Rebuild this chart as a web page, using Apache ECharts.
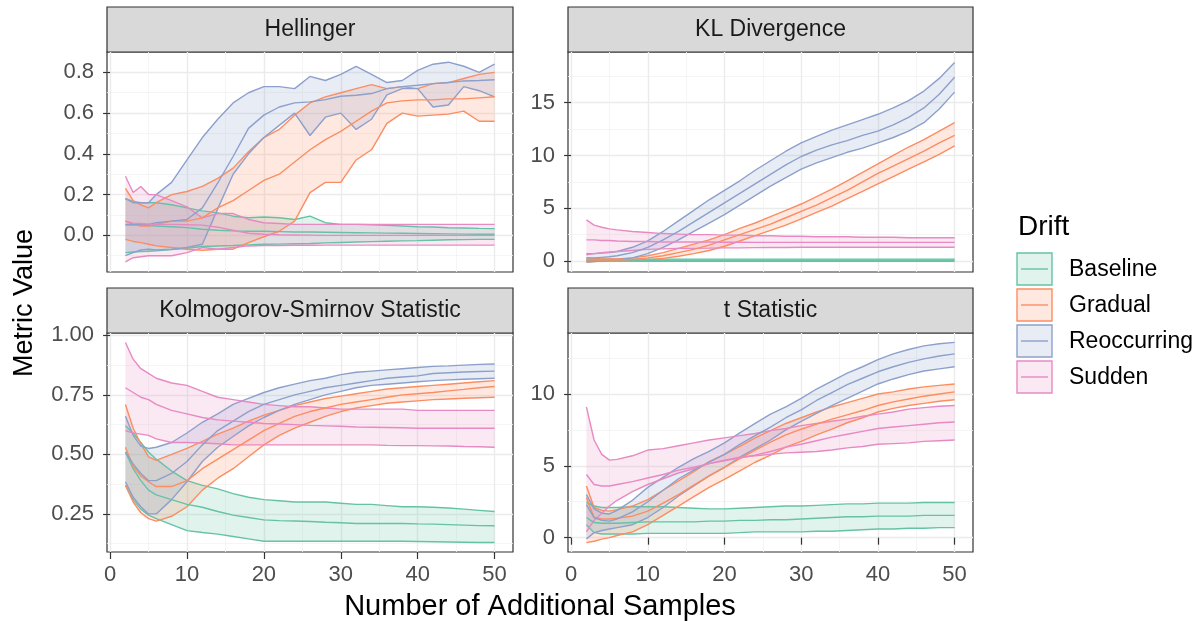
<!DOCTYPE html>
<html>
<head>
<meta charset="utf-8">
<title>Drift metrics</title>
<script src="https://cdn.jsdelivr.net/npm/echarts@6/dist/echarts.min.js"></script>
<style>
  html, body { margin: 0; padding: 0; background: #fff; }
  #chart { width: 1196px; height: 621px; }
</style>
</head>
<body>
<div id="chart"></div>
<script>
// x positions (number of additional samples)
const xs = [2, 3, 4, 5, 6, 8, 10, 12, 14, 16, 18, 20, 22, 24, 26, 28, 30, 32, 34, 36, 38, 40, 42, 44, 46, 48, 50];

const drifts = ['Baseline', 'Gradual', 'Reoccurring', 'Sudden'];
const driftColors = ['#66C2A5', '#FC8D62', '#8DA0CB', '#E78AC3'];

// tick labels
const xTicks = [0, 10, 20, 30, 40, 50];
const xMinor = [5, 15, 25, 35, 45];
const helTicks = [0, 0.2, 0.4, 0.6, 0.8];
const helMinor = [-0.1, 0.1, 0.3, 0.5, 0.7];
const klTicks = [0, 5, 10, 15];
const klMinor = [2.5, 7.5, 12.5, 17.5];
const ksTicks = [0.25, 0.5, 0.75, 1.0];
const ksMinor = [0.125, 0.375, 0.625, 0.875];
const tTicks = [0, 5, 10];
const tMinor = [2.5, 7.5, 12.5];

// Hellinger
const helBaseLo = [-0.085,-0.082,-0.08,-0.078,-0.076,-0.07,-0.064,-0.055,-0.052,-0.05,-0.047,-0.044,-0.043,-0.041,-0.04,-0.037,-0.035,-0.033,-0.031,-0.029,-0.027,-0.026,-0.024,-0.022,-0.021,-0.02,-0.02];
const helBaseMid = [0.05,0.05,0.05,0.048,0.046,0.042,0.038,0.03,0.025,0.022,0.02,0.02,0.018,0.016,0.016,0.015,0.014,0.013,0.012,0.011,0.01,0.009,0.008,0.007,0.006,0.005,0.005];
const helBaseHi = [0.18,0.167,0.16,0.16,0.16,0.15,0.135,0.12,0.11,0.094,0.086,0.09,0.086,0.078,0.094,0.062,0.054,0.054,0.052,0.049,0.046,0.042,0.041,0.037,0.036,0.034,0.033];
const helGradLo = [-0.02,-0.03,-0.036,-0.044,-0.052,-0.06,-0.068,-0.073,-0.068,-0.068,-0.036,-0.007,0.02,0.07,0.21,0.26,0.26,0.37,0.42,0.55,0.60,0.585,0.59,0.595,0.61,0.56,0.56];
const helGradMid = [0.07,0.054,0.046,0.046,0.054,0.07,0.07,0.086,0.135,0.17,0.22,0.27,0.30,0.36,0.42,0.47,0.51,0.56,0.61,0.65,0.66,0.665,0.665,0.67,0.67,0.675,0.68];
const helGradHi = [0.23,0.17,0.15,0.135,0.16,0.20,0.215,0.24,0.28,0.33,0.41,0.48,0.52,0.59,0.65,0.68,0.70,0.72,0.74,0.72,0.73,0.72,0.745,0.75,0.77,0.79,0.80];
const helReoLo = [-0.10,-0.085,-0.072,-0.068,-0.072,-0.068,-0.06,-0.044,0.13,0.30,0.40,0.48,0.54,0.60,0.49,0.58,0.60,0.52,0.57,0.69,0.72,0.72,0.63,0.64,0.73,0.71,0.68];
const helReoMid = [0.054,0.054,0.054,0.054,0.062,0.07,0.078,0.135,0.257,0.387,0.525,0.59,0.63,0.65,0.655,0.666,0.683,0.688,0.696,0.72,0.73,0.737,0.745,0.75,0.758,0.76,0.764];
const helReoHi = [0.18,0.16,0.16,0.16,0.20,0.26,0.37,0.48,0.57,0.65,0.70,0.73,0.73,0.72,0.78,0.76,0.79,0.83,0.79,0.75,0.76,0.81,0.84,0.85,0.83,0.80,0.84];
const helSudLo = [-0.13,-0.11,-0.105,-0.10,-0.10,-0.10,-0.085,-0.06,-0.068,-0.06,-0.052,-0.05,-0.05,-0.049,-0.049,-0.048,-0.048,-0.048,-0.048,-0.048,-0.048,-0.048,-0.048,-0.048,-0.048,-0.048,-0.048];
const helSudMid = [0.07,0.06,0.058,0.055,0.054,0.054,0.052,0.05,0.04,0.025,0.01,0.005,0.003,0.002,0.001,0,0,0,0,0,0,0,0,0,0,0,0];
const helSudHi = [0.29,0.21,0.24,0.20,0.20,0.17,0.14,0.086,0.107,0.107,0.078,0.062,0.058,0.054,0.054,0.054,0.054,0.054,0.054,0.054,0.054,0.054,0.054,0.054,0.054,0.054,0.054];

// KL Divergence
const klBaseLo = [-0.02,-0.02,-0.02,-0.02,-0.02,-0.02,-0.02,-0.02,-0.02,-0.02,-0.02,-0.02,-0.02,-0.02,-0.02,-0.02,-0.02,-0.02,-0.02,-0.02,-0.02,-0.02,-0.02,-0.02,-0.02,-0.02,-0.02];
const klBaseMid = [0.08,0.08,0.08,0.08,0.08,0.08,0.08,0.08,0.08,0.08,0.08,0.08,0.08,0.08,0.08,0.08,0.08,0.08,0.08,0.08,0.08,0.08,0.08,0.08,0.08,0.08,0.08];
const klBaseHi = [0.18,0.18,0.18,0.18,0.18,0.18,0.18,0.18,0.18,0.18,0.18,0.18,0.18,0.18,0.18,0.18,0.18,0.18,0.18,0.18,0.18,0.18,0.18,0.18,0.18,0.18,0.18];
const klGradLo = [-0.1,-0.05,0,0,0,0,0.1,0.25,0.45,0.7,1.0,1.4,1.9,2.4,2.9,3.4,4.0,4.6,5.2,5.9,6.6,7.3,8.0,8.7,9.4,10.1,10.9];
const klGradMid = [0.1,0.1,0.1,0.1,0.1,0.15,0.3,0.5,0.8,1.1,1.5,2.0,2.5,3.0,3.5,4.1,4.7,5.3,6.0,6.7,7.5,8.3,9.0,9.7,10.4,11.2,11.9];
const klGradHi = [0.3,0.25,0.2,0.2,0.2,0.3,0.5,0.8,1.2,1.6,2.0,2.5,3.1,3.6,4.2,4.8,5.4,6.1,6.8,7.6,8.4,9.2,10.0,10.8,11.5,12.3,13.1];
const klReoLo = [-0.1,-0.05,0,0.05,0.1,0.3,0.7,1.3,2.0,2.8,3.6,4.4,5.3,6.2,7.1,7.9,8.7,9.3,9.8,10.3,10.7,11.2,11.7,12.3,13.1,14.4,16.0];
const klReoMid = [0.3,0.3,0.35,0.4,0.5,0.8,1.3,2.0,2.8,3.7,4.6,5.5,6.4,7.3,8.2,9.1,9.9,10.5,11.0,11.4,11.9,12.3,12.9,13.6,14.5,15.8,17.4];
const klReoHi = [0.7,0.7,0.75,0.8,0.9,1.3,1.9,2.8,3.8,4.8,5.8,6.7,7.6,8.6,9.5,10.4,11.2,11.8,12.4,12.9,13.4,13.9,14.5,15.2,16.1,17.3,18.8];
const klSudLo = [0.6,0.7,0.8,0.85,0.9,1.0,1.1,1.15,1.2,1.2,1.22,1.25,1.25,1.27,1.28,1.28,1.3,1.3,1.3,1.3,1.3,1.3,1.3,1.3,1.3,1.3,1.3];
const klSudMid = [2.0,2.0,1.95,1.95,1.9,1.85,1.85,1.8,1.8,1.8,1.8,1.78,1.78,1.77,1.77,1.77,1.77,1.77,1.77,1.77,1.77,1.77,1.77,1.77,1.77,1.77,1.77];
const klSudHi = [3.9,3.4,3.2,3.05,2.95,2.8,2.7,2.6,2.55,2.5,2.5,2.45,2.45,2.4,2.4,2.35,2.35,2.3,2.3,2.3,2.25,2.25,2.25,2.2,2.2,2.2,2.2];

// Kolmogorov-Smirnov Statistic
const ksBaseLo = [0.37,0.31,0.27,0.245,0.23,0.205,0.18,0.172,0.165,0.155,0.145,0.135,0.135,0.135,0.135,0.135,0.135,0.135,0.135,0.135,0.135,0.134,0.133,0.132,0.131,0.13,0.13];
const ksBaseMid = [0.51,0.44,0.39,0.35,0.33,0.31,0.29,0.278,0.26,0.245,0.235,0.225,0.222,0.22,0.218,0.215,0.213,0.21,0.21,0.21,0.21,0.208,0.207,0.205,0.203,0.201,0.20];
const ksBaseHi = [0.62,0.59,0.55,0.51,0.48,0.43,0.39,0.37,0.355,0.335,0.32,0.31,0.305,0.30,0.30,0.30,0.295,0.29,0.29,0.285,0.28,0.28,0.278,0.275,0.27,0.265,0.26];
const ksGradLo = [0.37,0.30,0.255,0.23,0.22,0.24,0.28,0.35,0.40,0.44,0.49,0.54,0.58,0.61,0.635,0.66,0.68,0.695,0.705,0.715,0.72,0.725,0.73,0.733,0.736,0.738,0.74];
const ksGradMid = [0.53,0.45,0.41,0.385,0.365,0.365,0.39,0.44,0.48,0.52,0.56,0.60,0.63,0.66,0.68,0.695,0.71,0.72,0.73,0.74,0.75,0.755,0.76,0.767,0.773,0.78,0.785];
const ksGradHi = [0.71,0.61,0.545,0.49,0.475,0.50,0.525,0.555,0.585,0.61,0.64,0.665,0.685,0.705,0.72,0.735,0.745,0.755,0.765,0.775,0.78,0.785,0.79,0.795,0.80,0.805,0.81];
const ksReoLo = [0.385,0.32,0.28,0.25,0.25,0.31,0.385,0.47,0.53,0.575,0.62,0.655,0.685,0.71,0.73,0.75,0.765,0.78,0.79,0.795,0.80,0.805,0.81,0.813,0.816,0.818,0.82];
const ksReoMid = [0.51,0.46,0.42,0.39,0.39,0.42,0.47,0.54,0.60,0.64,0.68,0.71,0.73,0.75,0.765,0.78,0.79,0.80,0.81,0.82,0.825,0.83,0.84,0.843,0.846,0.848,0.85];
const ksReoHi = [0.66,0.58,0.535,0.525,0.53,0.55,0.59,0.635,0.67,0.71,0.735,0.76,0.78,0.795,0.81,0.82,0.835,0.845,0.85,0.855,0.86,0.865,0.87,0.872,0.875,0.878,0.88];
const ksSudLo = [0.60,0.59,0.585,0.58,0.565,0.55,0.55,0.548,0.545,0.54,0.54,0.54,0.54,0.54,0.54,0.54,0.54,0.54,0.54,0.538,0.537,0.537,0.536,0.535,0.533,0.532,0.53];
const ksSudMid = [0.78,0.76,0.74,0.73,0.71,0.685,0.67,0.655,0.645,0.64,0.635,0.63,0.628,0.625,0.622,0.62,0.618,0.615,0.614,0.613,0.612,0.61,0.61,0.61,0.61,0.61,0.61];
const ksSudHi = [0.97,0.90,0.86,0.84,0.82,0.80,0.79,0.765,0.74,0.73,0.72,0.71,0.705,0.70,0.70,0.695,0.69,0.69,0.69,0.69,0.69,0.685,0.685,0.685,0.685,0.685,0.685];

// t Statistic
const tBaseLo = [0.9,0.35,0.25,0.25,0.25,0.25,0.3,0.3,0.3,0.3,0.3,0.3,0.35,0.4,0.4,0.4,0.4,0.45,0.45,0.5,0.55,0.6,0.6,0.65,0.65,0.7,0.7];
const tBaseMid = [1.4,1.05,1.0,1.0,1.0,1.05,1.1,1.1,1.1,1.1,1.15,1.15,1.2,1.2,1.25,1.25,1.3,1.35,1.4,1.45,1.45,1.5,1.5,1.5,1.55,1.55,1.55];
const tBaseHi = [2.45,2.2,2.1,2.1,2.1,2.15,2.15,2.15,2.1,2.05,2.0,2.0,2.05,2.1,2.15,2.2,2.2,2.25,2.3,2.35,2.35,2.4,2.4,2.4,2.45,2.45,2.45];
const tGradLo = [-0.35,-0.25,-0.1,0,0.15,0.4,0.9,1.55,2.2,2.85,3.5,4.05,4.65,5.25,5.75,6.3,6.7,7.15,7.55,8.0,8.35,8.75,9.0,9.2,9.35,9.5,9.6];
const tGradMid = [2.8,1.4,1.3,1.3,1.35,1.5,1.85,2.4,3.0,3.65,4.3,4.9,5.5,6.1,6.65,7.15,7.55,7.9,8.25,8.55,8.85,9.2,9.45,9.65,9.85,10.0,10.15];
const tGradHi = [3.6,2.1,1.9,1.85,1.95,2.2,2.65,3.3,3.95,4.6,5.3,5.8,6.35,6.95,7.45,7.95,8.35,8.75,9.1,9.4,9.7,10.0,10.15,10.35,10.5,10.6,10.7];
const tReoLo = [-0.1,0.35,0.5,0.6,0.7,0.9,1.4,2.1,2.9,3.6,4.3,4.9,5.6,6.2,6.8,7.5,8.1,8.65,9.2,9.7,10.2,10.7,11.05,11.35,11.6,11.75,11.9];
const tReoMid = [2.3,1.4,1.2,1.15,1.3,1.8,2.5,3.3,4.1,4.7,5.25,5.8,6.5,7.1,7.7,8.35,8.9,9.55,10.1,10.65,11.1,11.55,11.9,12.2,12.45,12.65,12.8];
const tReoHi = [3.0,2.0,1.7,1.65,1.9,2.6,3.5,4.2,4.9,5.5,6.0,6.6,7.3,7.95,8.6,9.1,9.7,10.35,10.9,11.45,11.9,12.4,12.8,13.1,13.35,13.5,13.6];
const tSudLo = [0.4,1.2,1.7,2.2,2.6,3.2,3.7,4.1,4.5,4.8,5.15,5.4,5.6,5.7,5.8,5.9,5.95,6.0,6.1,6.25,6.35,6.5,6.55,6.6,6.7,6.75,6.8];
const tSudMid = [4.4,3.7,3.6,3.6,3.7,3.9,4.15,4.4,4.7,4.9,5.15,5.35,5.55,5.75,6.0,6.3,6.5,6.75,7.0,7.2,7.4,7.6,7.7,7.8,7.9,8.0,8.05];
const tSudHi = [9.1,6.8,5.8,5.4,5.45,5.7,6.1,6.2,6.4,6.6,6.8,6.95,7.1,7.25,7.45,7.6,7.8,7.95,8.1,8.25,8.45,8.6,8.75,8.95,9.05,9.15,9.2];

const FONT = '"Liberation Sans", Arial, sans-serif';

const panels = [
  { title: 'Hellinger', ymin: -0.18, ymax: 0.9, ticks: helTicks, minor: helMinor, digits: 1, bottom: false,
    rect: { left: 107, top: 52, width: 406, height: 220 },
    bands: [[helBaseLo, helBaseMid, helBaseHi], [helGradLo, helGradMid, helGradHi], [helReoLo, helReoMid, helReoHi], [helSudLo, helSudMid, helSudHi]] },
  { title: 'KL Divergence', ymin: -1.04, ymax: 19.8, ticks: klTicks, minor: klMinor, digits: 0, bottom: false,
    rect: { left: 568, top: 52, width: 405, height: 220 },
    bands: [[klBaseLo, klBaseMid, klBaseHi], [klGradLo, klGradMid, klGradHi], [klReoLo, klReoMid, klReoHi], [klSudLo, klSudMid, klSudHi]] },
  { title: 'Kolmogorov-Smirnov Statistic', ymin: 0.09, ymax: 1.01, ticks: ksTicks, minor: ksMinor, digits: 2, bottom: true,
    rect: { left: 107, top: 333, width: 406, height: 219 },
    bands: [[ksBaseLo, ksBaseMid, ksBaseHi], [ksGradLo, ksGradMid, ksGradHi], [ksReoLo, ksReoMid, ksReoHi], [ksSudLo, ksSudMid, ksSudHi]] },
  { title: 't Statistic', ymin: -1.0, ymax: 14.25, ticks: tTicks, minor: tMinor, digits: 0, bottom: true,
    rect: { left: 568, top: 333, width: 405, height: 219 },
    bands: [[tBaseLo, tBaseMid, tBaseHi], [tGradLo, tGradMid, tGradHi], [tReoLo, tReoMid, tReoHi], [tSudLo, tSudMid, tSudHi]] }
];

function fade(hex, a) {
  const n = parseInt(hex.slice(1), 16);
  return 'rgba(' + (n >> 16) + ',' + ((n >> 8) & 255) + ',' + (n & 255) + ',' + a + ')';
}

// ribbon polygon: drawn once from all points of the series
function ribbon(fill) {
  return function (params, api) {
    if (params.dataIndexInside !== 0) return null;
    const upper = [], lower = [];
    for (let i = 0; i < params.dataInsideLength; i++) {
      upper.push(api.coord([api.value(0, i), api.value(2, i)]));
      lower.push(api.coord([api.value(0, i), api.value(1, i)]));
    }
    return { type: 'polygon', shape: { points: upper.concat(lower.reverse()) }, style: { fill: fill } };
  };
}

const grid = [], xAxis = [], yAxis = [], series = [], graphic = [];

panels.forEach((p, pi) => {
  grid.push(Object.assign({ show: true, backgroundColor: '#fff', borderColor: '#333', borderWidth: 1.2, containLabel: false }, p.rect));

  // major x axis
  xAxis.push({
    gridIndex: pi, type: 'value', min: -0.4, max: 52.4,
    axisLine: { show: false },
    axisTick: { show: p.bottom, customValues: xTicks, length: 7, lineStyle: { color: '#333', width: 1.2 } },
    axisLabel: { show: p.bottom, customValues: xTicks, margin: 12, color: '#4D4D4D', fontSize: 22, fontFamily: FONT },
    splitLine: { show: true, lineStyle: { color: '#EBEBEB', width: 1.4 } }
  });
  // minor x grid lines
  xAxis.push({
    gridIndex: pi, type: 'value', min: -0.4, max: 52.4,
    axisLine: { show: false },
    axisTick: { show: false, customValues: xMinor },
    axisLabel: { show: false, customValues: xMinor },
    splitLine: { show: true, lineStyle: { color: '#F2F2F2', width: 0.8 } }
  });
  yAxis.push({
    gridIndex: pi, type: 'value', min: p.ymin, max: p.ymax, position: 'left',
    axisLine: { show: false },
    axisTick: { show: true, customValues: p.ticks, length: 7, lineStyle: { color: '#333', width: 1.2 } },
    axisLabel: { show: true, customValues: p.ticks, margin: 13, color: '#4D4D4D', fontSize: 22, fontFamily: FONT,
      formatter: v => Number(v).toFixed(p.digits) },
    splitLine: { show: true, lineStyle: { color: '#EBEBEB', width: 1.4 } }
  });
  yAxis.push({
    gridIndex: pi, type: 'value', min: p.ymin, max: p.ymax, position: 'left',
    axisLine: { show: false },
    axisTick: { show: false, customValues: p.minor },
    axisLabel: { show: false, customValues: p.minor },
    splitLine: { show: true, lineStyle: { color: '#F2F2F2', width: 0.8 } }
  });

  // ribbons with their edge lines
  p.bands.forEach((b, di) => {
    const [lo, mid, hi] = b;
    const color = driftColors[di];
    series.push({
      type: 'custom', xAxisIndex: pi * 2, yAxisIndex: pi * 2, silent: true,
      data: xs.map((x, i) => [x, lo[i], hi[i]]),
      encode: { x: 0, y: [1, 2] },
      renderItem: ribbon(fade(color, 0.2))
    });
    [lo, hi].forEach(edge => {
      series.push({
        type: 'line', xAxisIndex: pi * 2, yAxisIndex: pi * 2,
        data: xs.map((x, i) => [x, edge[i]]), symbol: 'none', silent: true,
        lineStyle: { color: color, width: 1.4 }
      });
    });
  });
  // mean lines on top
  p.bands.forEach((b, di) => {
    series.push({
      type: 'line', xAxisIndex: pi * 2, yAxisIndex: pi * 2,
      data: xs.map((x, i) => [x, b[1][i]]), symbol: 'none', silent: true,
      lineStyle: { color: driftColors[di], width: 1.4 }
    });
  });

  // facet strip
  const r = p.rect;
  const stripH = 45;
  graphic.push({
    type: 'rect', shape: { x: r.left, y: r.top - stripH, width: r.width, height: stripH },
    style: { fill: '#D9D9D9', stroke: '#333', lineWidth: 1.2 }
  });
  graphic.push({
    type: 'text', x: r.left + r.width / 2, y: r.top - stripH / 2,
    style: { text: p.title, fill: '#1A1A1A', font: '23px ' + FONT, align: 'center', verticalAlign: 'middle' }
  });
});

// axis titles
graphic.push({
  type: 'text', x: 540, y: 607,
  style: { text: 'Number of Additional Samples', fill: '#000', font: '29px ' + FONT, align: 'center', verticalAlign: 'middle' }
});
graphic.push({
  type: 'text', x: 25, y: 303, rotation: Math.PI / 2,
  style: { text: 'Metric Value', fill: '#000', font: '27px ' + FONT, align: 'center', verticalAlign: 'middle' }
});

// legend
graphic.push({
  type: 'text', x: 1018, y: 227,
  style: { text: 'Drift', fill: '#000', font: '28px ' + FONT, align: 'left', verticalAlign: 'middle' }
});
drifts.forEach((d, di) => {
  const top = 253 + di * 36;
  graphic.push({
    type: 'rect', shape: { x: 1017, y: top, width: 35, height: 32 },
    style: { fill: fade(driftColors[di], 0.2), stroke: driftColors[di], lineWidth: 1.4 }
  });
  graphic.push({
    type: 'line', shape: { x1: 1021, y1: top + 16, x2: 1048, y2: top + 16 },
    style: { stroke: driftColors[di], lineWidth: 1.4 }
  });
  graphic.push({
    type: 'text', x: 1069, y: top + 17,
    style: { text: d, fill: '#000', font: '23px ' + FONT, align: 'left', verticalAlign: 'middle' }
  });
});

const chart = echarts.init(document.getElementById('chart'));
chart.setOption({
  animation: false,
  backgroundColor: '#fff',
  grid: grid,
  xAxis: xAxis,
  yAxis: yAxis,
  series: series,
  graphic: graphic
});
</script>
</body>
</html>
